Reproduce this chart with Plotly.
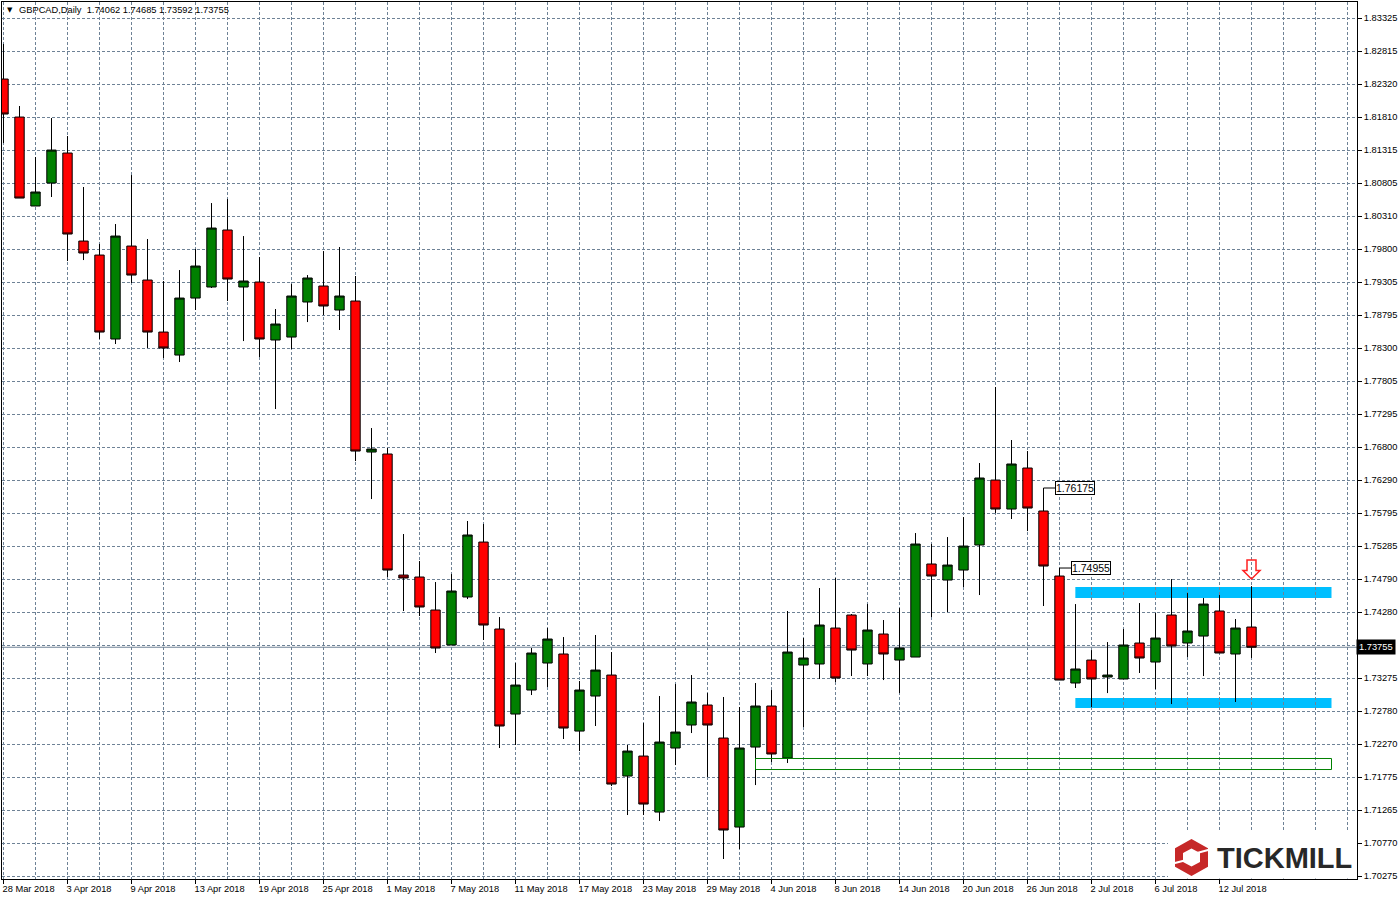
import numpy as np
import plotly.graph_objects as go

dates = ["28 Mar 2018","3 Apr 2018","9 Apr 2018","13 Apr 2018","19 Apr 2018","25 Apr 2018","1 May 2018",
         "7 May 2018","11 May 2018","17 May 2018","23 May 2018","29 May 2018","4 Jun 2018","8 Jun 2018",
         "14 Jun 2018","20 Jun 2018","26 Jun 2018","2 Jul 2018","6 Jul 2018","12 Jul 2018"]

price_labels = ["1.83325","1.82815","1.82320","1.81810","1.81315","1.80805","1.80310","1.79800","1.79305",
                "1.78795","1.78300","1.77805","1.77295","1.76800","1.76290","1.75795","1.75285","1.74790",
                "1.74280","","1.73275","1.72780","1.72270","1.71775","1.71265","1.70770","1.70275"]

opens = [1.82397,1.81819,1.80466,1.80816,1.81272,1.79933,1.79720,1.78443,1.79857,1.79340,
         1.78549,1.78199,1.79066,1.79234,1.80101,1.79234,1.79310,1.78428,1.78473,1.79006,
         1.79249,1.78884,1.79021,1.76724,1.76694,1.74853,1.74823,1.74321,1.73789,1.74519,
         1.75355,1.74032,1.72739,1.73104,1.73515,1.73652,1.72480,1.73013,1.73332,1.71796,
         1.72100,1.71248,1.72222,1.72572,1.72876,1.72374,1.71020,1.72237,1.72861,1.72070,
         1.73484,1.73500,1.74047,1.74245,1.73500,1.73956,1.73560,1.73606,1.75021,1.74777,
         1.74929,1.75310,1.76298,1.75857,1.76481,1.75827,1.74838,1.73211,1.73560,1.73302,
         1.73272,1.73819,1.73530,1.74245,1.73819,1.73925,1.74306,1.73652,1.74062]
highs = [1.82930,1.81987,1.81211,1.81804,1.81530,1.80755,1.79888,1.80192,1.80937,1.79964,
         1.79325,1.79492,1.79812,1.80511,1.80572,1.80009,1.79690,1.78899,1.79279,1.79416,
         1.79781,1.79842,1.79401,1.77089,1.76785,1.75477,1.75066,1.74747,1.74868,1.75675,
         1.75629,1.74214,1.73515,1.73743,1.74047,1.73910,1.73241,1.73941,1.73682,1.72268,
         1.72602,1.73013,1.73195,1.73332,1.73058,1.72998,1.72846,1.73211,1.73104,1.74306,
         1.73895,1.74656,1.74808,1.74260,1.74412,1.74169,1.74351,1.75492,1.75325,1.75431,
         1.75735,1.76557,1.77713,1.76907,1.76739,1.76177,1.74960,1.74412,1.73712,1.73834,
         1.74032,1.74427,1.74275,1.74792,1.74579,1.74503,1.74549,1.74184,1.74685]
lows = [1.81424,1.80587,1.80466,1.80603,1.79629,1.79644,1.78443,1.78367,1.79295,1.78306,
        1.78154,1.78093,1.78884,1.79219,1.79021,1.78412,1.78169,1.77378,1.78291,1.78701,
        1.78808,1.78580,1.76587,1.76009,1.74823,1.74306,1.74230,1.73667,1.73789,1.74488,
        1.73865,1.72222,1.72268,1.73028,1.73150,1.72359,1.72176,1.72557,1.71644,1.71203,
        1.71203,1.71112,1.71963,1.72450,1.71781,1.70534,1.70686,1.71659,1.72009,1.71994,
        1.72541,1.73272,1.73226,1.73317,1.73317,1.73256,1.73058,1.73606,1.74214,1.74290,
        1.74671,1.74549,1.75796,1.75705,1.75522,1.74382,1.73256,1.73135,1.72846,1.73058,
        1.73272,1.73363,1.73119,1.72891,1.73606,1.73317,1.73667,1.72922,1.73592]
closes = [1.81865,1.80587,1.80679,1.81317,1.80040,1.79751,1.78549,1.80009,1.79416,1.78549,
          1.78306,1.79066,1.79553,1.80131,1.79355,1.79325,1.78443,1.78671,1.79097,1.79371,
          1.78945,1.79097,1.76739,1.76770,1.74929,1.74808,1.74367,1.73743,1.74610,1.75462,
          1.74093,1.72557,1.73180,1.73667,1.73880,1.72526,1.73104,1.73408,1.71674,1.72176,
          1.71370,1.72313,1.72465,1.72922,1.72572,1.70975,1.72222,1.72861,1.72131,1.73682,
          1.73591,1.74093,1.73287,1.73712,1.74017,1.73652,1.73743,1.75325,1.74838,1.75005,
          1.75294,1.76329,1.75857,1.76542,1.75872,1.74990,1.73256,1.73424,1.73272,1.73332,
          1.73789,1.73591,1.73895,1.73773,1.74002,1.74412,1.73667,1.74047,1.73755]

last_price = 1.73755
resistance_zone = (1.74503, 1.74671)
support_zone = (1.72830, 1.72982)
demand_zone = (1.71895, 1.72063)
zone_start_bar, demand_start_bar, zone_end_bar = 67, 47, 83
callouts = [(65, 1.76177, "1.76175"), (66, 1.74960, "1.74955")]
arrow_bar, arrow_price = 78, 1.74793

GRID = "#6E8296"
DASH = "3px,2px"
FONT = "Liberation Sans"
W, H = 1400, 900
L, R, T, B = 2, 43, 2, 21
PW, PH = W - L - R, H - T - B
PX_PER_BAR = 16.0
XMIN = (2 - 3.5) / PX_PER_BAR
XMAX = (1357 - 3.5) / PX_PER_BAR

def paper_x(px): return (px - L) / PW
def paper_y(py): return (H - B - py) / PH

n = len(opens)
fig = go.Figure(go.Candlestick(
    x=list(range(n)), open=opens, high=highs, low=lows, close=closes,
    increasing=dict(line=dict(color="black", width=1), fillcolor="#008000"),
    decreasing=dict(line=dict(color="black", width=1), fillcolor="#FF0000"),
    whiskerwidth=0, showlegend=False, hoverinfo="skip",
))

shapes = [
    dict(type="line", xref="paper", x0=0, x1=1, yref="y", y0=last_price, y1=last_price,
         line=dict(color=GRID, width=1), layer="below"),
]
for lo, hi in (resistance_zone, support_zone):
    shapes.append(dict(type="rect", xref="x", yref="y", x0=zone_start_bar - 0.01, x1=zone_end_bar, y0=lo, y1=hi,
                       fillcolor="#00BFFF", line=dict(width=0), layer="below"))
shapes.append(dict(type="rect", xref="x", yref="y", x0=demand_start_bar, x1=zone_end_bar,
                   y0=demand_zone[0], y1=demand_zone[1], fillcolor="rgba(0,0,0,0)",
                   line=dict(color="#008000", width=1), layer="above"))
for bar, price, _ in callouts:
    shapes.append(dict(type="line", xref="x", yref="y", x0=bar, x1=bar + 0.72, y0=price, y1=price,
                       line=dict(color="black", width=1)))
# down arrow
shapes.append(dict(type="path", xsizemode="pixel", ysizemode="pixel", xref="x", yref="y",
                   xanchor=arrow_bar, yanchor=arrow_price,
                   path="M-4.5,19 L4.5,19 L4.5,8.5 L8.5,8.5 L0,0 L-8.5,8.5 L-4.5,8.5 Z",
                   line=dict(color="#FF2020", width=1.5), fillcolor="rgba(255,255,255,0)"))
# logo backdrop and mark
shapes.append(dict(type="rect", xref="paper", yref="paper", x0=paper_x(1168), x1=paper_x(1356.5),
                   y0=paper_y(878.5), y1=paper_y(832), fillcolor="white", line=dict(width=0), layer="above"))
shapes.append(dict(type="path", xsizemode="pixel", ysizemode="pixel", xref="paper", yref="paper",
                   xanchor=paper_x(1191.5), yanchor=paper_y(857.5),
                   path="M0,18.5 L16.5,9.25 L16.5,-9.25 L0,-18.5 L-16.5,-9.25 L-16.5,9.25 Z "
                        "M0,9 L8.5,4.5 L8.5,-4.5 L0,-9 L-8.5,-4.5 L-8.5,4.5 Z",
                   fillcolor="#C62828", line=dict(width=0), layer="above"))
shapes.append(dict(type="path", xsizemode="pixel", ysizemode="pixel", xref="paper", yref="paper",
                   xanchor=paper_x(1191.5), yanchor=paper_y(857.5),
                   path="M-17.5,-5.8 L-5,-2.5 M5.5,4.5 L17.5,7.8",
                   line=dict(color="white", width=2), layer="above"))

annotations = [
    dict(xref="paper", yref="paper", x=paper_x(6), y=paper_y(10.5), xanchor="left", yanchor="middle",
         text="▼", showarrow=False, font=dict(family="DejaVu Sans", size=7, color="black"), borderpad=0),
    dict(xref="paper", yref="paper", x=paper_x(18), y=paper_y(10.5), xanchor="left", yanchor="middle",
         text="GBPCAD,Daily  1.74062 1.74685 1.73592 1.73755", showarrow=False,
         font=dict(family=FONT, size=9.3, color="black"), borderpad=0),
    dict(xref="paper", yref="y", x=1, y=last_price, xanchor="left", yanchor="middle", xshift=-1,
         text="1.73755", showarrow=False, bgcolor="black",
         font=dict(family=FONT, size=9.3, color="white"), borderpad=2),
    dict(xref="paper", yref="paper", x=paper_x(1216), y=paper_y(858), xanchor="left", yanchor="middle",
         text="<b>TICKMILL</b>", showarrow=False, font=dict(family=FONT, size=29, color="#282828"), borderpad=0),
]
for bar, price, label in callouts:
    annotations.append(dict(xref="x", yref="y", x=bar + 0.72, y=price, xanchor="left", yanchor="middle",
                            text=label, showarrow=False, bgcolor="white", bordercolor="black", borderwidth=1,
                            borderpad=0, font=dict(family=FONT, size=10.5, color="black")))

label_bars = list(range(0, 4 * len(dates), 4))
fig.update_layout(
    width=W, height=H, margin=dict(l=L, r=R, t=T, b=B, pad=0),
    paper_bgcolor="white", plot_bgcolor="white", boxgap=0.16,
    shapes=shapes, annotations=annotations, hovermode=False, dragmode=False,
    xaxis=dict(
        type="linear", range=[XMIN, XMAX], rangeslider=dict(visible=False),
        tickmode="array", tickvals=label_bars, ticktext=dates, ticklabelposition="outside right",
        ticklabelshift=-2, ticklabelstandoff=1,
        ticks="outside", ticklen=4, tickcolor="black", tickwidth=1,
        tickfont=dict(family=FONT, size=9.3, color="black"),
        showgrid=True, gridcolor=GRID, griddash=DASH, gridwidth=1,
        showline=True, linecolor="black", linewidth=1, mirror=True, zeroline=False,
        minor=dict(tickmode="array", tickvals=list(range(2, 86, 4)) + [80, 84], ticks="", showgrid=True,
                   gridcolor=GRID, griddash=DASH, gridwidth=1),
    ),
    yaxis=dict(
        side="right", range=[1.70230, 1.83569], tickmode="array",
        tickvals=np.linspace(1.83325, 1.70275, len(price_labels)).tolist(), ticktext=price_labels,
        ticklabelstandoff=0,
        ticks="outside", ticklen=4, tickcolor="black", tickwidth=1,
        tickfont=dict(family=FONT, size=9.3, color="black"),
        showgrid=True, gridcolor=GRID, griddash=DASH, gridwidth=1,
        showline=True, linecolor="black", linewidth=1, mirror=True, zeroline=False,
    ),
)
fig.write_html("out.html", post_script="document.body.style.margin='0';", config=dict(displayModeBar=False))
